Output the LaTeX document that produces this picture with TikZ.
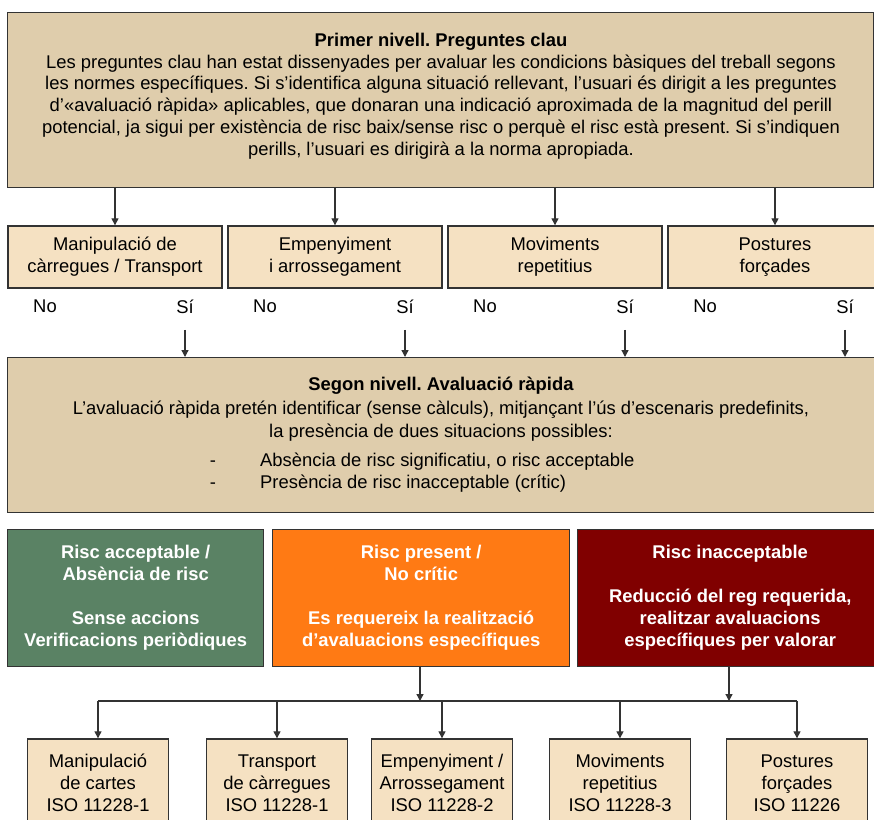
\documentclass[tikz,border=0pt]{standalone}
\usepackage{fontspec}
\setmainfont{Liberation Sans}
\usetikzlibrary{arrows.meta}
\frenchspacing

\definecolor{tanbg}{HTML}{DFCDAC}
\definecolor{lightbg}{HTML}{F5E1C2}
\definecolor{edge}{HTML}{333333}
\definecolor{okgreen}{HTML}{5A8264}
\definecolor{midorange}{HTML}{FF7A14}
\definecolor{critred}{HTML}{800000}

\newcommand{\txtsize}{\fontsize{18.4}{22}\selectfont}

\tikzset{
  panel/.style={draw=edge, line width=1.4pt, rectangle, inner sep=0pt},
  bigpanel/.style={panel, fill=tanbg},
  itembox/.style={panel, fill=lightbg, minimum width=214pt, minimum height=62pt,
    align=center, font=\txtsize},
  riskbox/.style={panel, minimum height=137pt, text=white, align=center,
    font=\txtsize\bfseries},
  normbox/.style={panel, fill=lightbg, minimum width=141pt, minimum height=88pt,
    align=center, font=\txtsize},
  lbl/.style={inner sep=0pt, font=\txtsize},
  arr/.style={draw=edge, line width=1.3pt, -{Triangle[length=7pt,width=7pt]}},
  lin/.style={draw=edge, line width=1.3pt},
}

\begin{document}
\begin{tikzpicture}[x=1pt, y=-1pt]
\clip (0,0) rectangle (874,819);
\fill[white] (0,0) rectangle (874,819);

% first level
\node[bigpanel, minimum width=866pt, minimum height=175pt, anchor=north west] (top) at (7,12) {};
\node[align=center, font=\fontsize{18.4}{21.7}\selectfont, inner sep=0pt] (toptext) at (441,96)
 {\textbf{Primer nivell. Preguntes clau}\\
  Les preguntes clau han estat dissenyades per avaluar les condicions bàsiques del treball segons\\
  les normes específiques. Si s’identifica alguna situació rellevant, l’usuari és dirigit a les preguntes\\
  d’«avaluació ràpida» aplicables, que donaran una indicació aproximada de la magnitud del perill\\
  potencial, ja sigui per existència de risc baix/sense risc o perquè el risc està present. Si s’indiquen\\
  perills, l’usuari es dirigirà a la norma apropiada.};

% four question boxes
\node[itembox] (q1) at (115,257) {Manipulació de\\càrregues / Transport};
\node[itembox] (q2) at (335,257) {Empenyiment\\i arrossegament};
\node[itembox] (q3) at (555,257) {Moviments\\repetitius};
\node[itembox] (q4) at (775,257) {Postures\\forçades};

\foreach \q in {q1,q2,q3,q4}
  \draw[arr] (\q.north |- top.south) -- (\q.north);

% No / Sí answers
\foreach \q/\n in {q1/1,q2/2,q3/3,q4/4}{
  \node[lbl] (no\n) at ([xshift=-70pt, yshift=-18pt]\q.south) {No};
  \node[lbl] (si\n) at ([xshift=70pt, yshift=-18pt]\q.south) {Sí};
}

% second level
\node[bigpanel, minimum width=875pt, minimum height=155pt, anchor=north west] (mid) at (7,357) {};
\foreach \n in {1,2,3,4}
  \draw[arr] ([yshift=-16pt]si\n.south) -- (si\n.south |- mid.north);

\node[align=center, font=\fontsize{18.4}{23.5}\selectfont, inner sep=0pt] (midtext) at (441,409.5)
 {\textbf{Segon nivell. Avaluació ràpida}\\
  L’avaluació ràpida pretén identificar (sense càlculs), mitjançant l’ús d’escenaris predefinits,\\
  la presència de dues situacions possibles:};
\node[lbl, anchor=base] (d1) at (213,466) {-};
\node[lbl, anchor=base] (d2) at (213,488) {-};
\node[lbl, anchor=base west] (l1) at (260,466) {Absència de risc significatiu, o risc acceptable};
\node[lbl, anchor=base west] (l2) at (260,488) {Presència de risc inacceptable (crític)};

% risk outcomes
\node[riskbox, fill=okgreen, minimum width=256pt, anchor=north west] (ok) at (7,529)
 {Risc acceptable /\\Absència de risc\\[22pt]Sense accions\\Verificacions periòdiques};
\node[riskbox, fill=midorange, minimum width=297pt, anchor=north west] (pres) at (272,529)
 {Risc present /\\No crític\\[22pt]Es requereix la realització\\d’avaluacions específiques};
\node[riskbox, fill=critred, minimum width=305pt, anchor=north west] (crit) at (577,529)
 {Risc inacceptable\\[22pt]Reducció del reg requerida,\\realitzar avaluacions\\específiques per valorar};

% specific standards
\node[normbox] (n1) at (98,783) {Manipulació\\de cartes\\ISO 11228-1};
\node[normbox] (n2) at (277,783) {Transport\\de càrregues\\ISO 11228-1};
\node[normbox] (n3) at (442,783) {Empenyiment /\\Arrossegament\\ISO 11228-2};
\node[normbox] (n4) at (620,783) {Moviments\\repetitius\\ISO 11228-3};
\node[normbox] (n5) at (797,783) {Postures\\forçades\\ISO 11226};

% distribution bus
\coordinate (busL) at (98,701);
\coordinate (busR) at (797,701);
\coordinate (jPres) at (420,701);
\coordinate (jCrit) at (729,701);
\draw[lin] (busL) -- (busR);
\draw[arr] (pres.south -| jPres) -- (jPres);
\draw[arr] (crit.south -| jCrit) -- (jCrit);
\foreach \n in {n1,n2,n3,n4,n5}
  \draw[arr] (\n.north |- busL) -- (\n.north);
\end{tikzpicture}
\end{document}
